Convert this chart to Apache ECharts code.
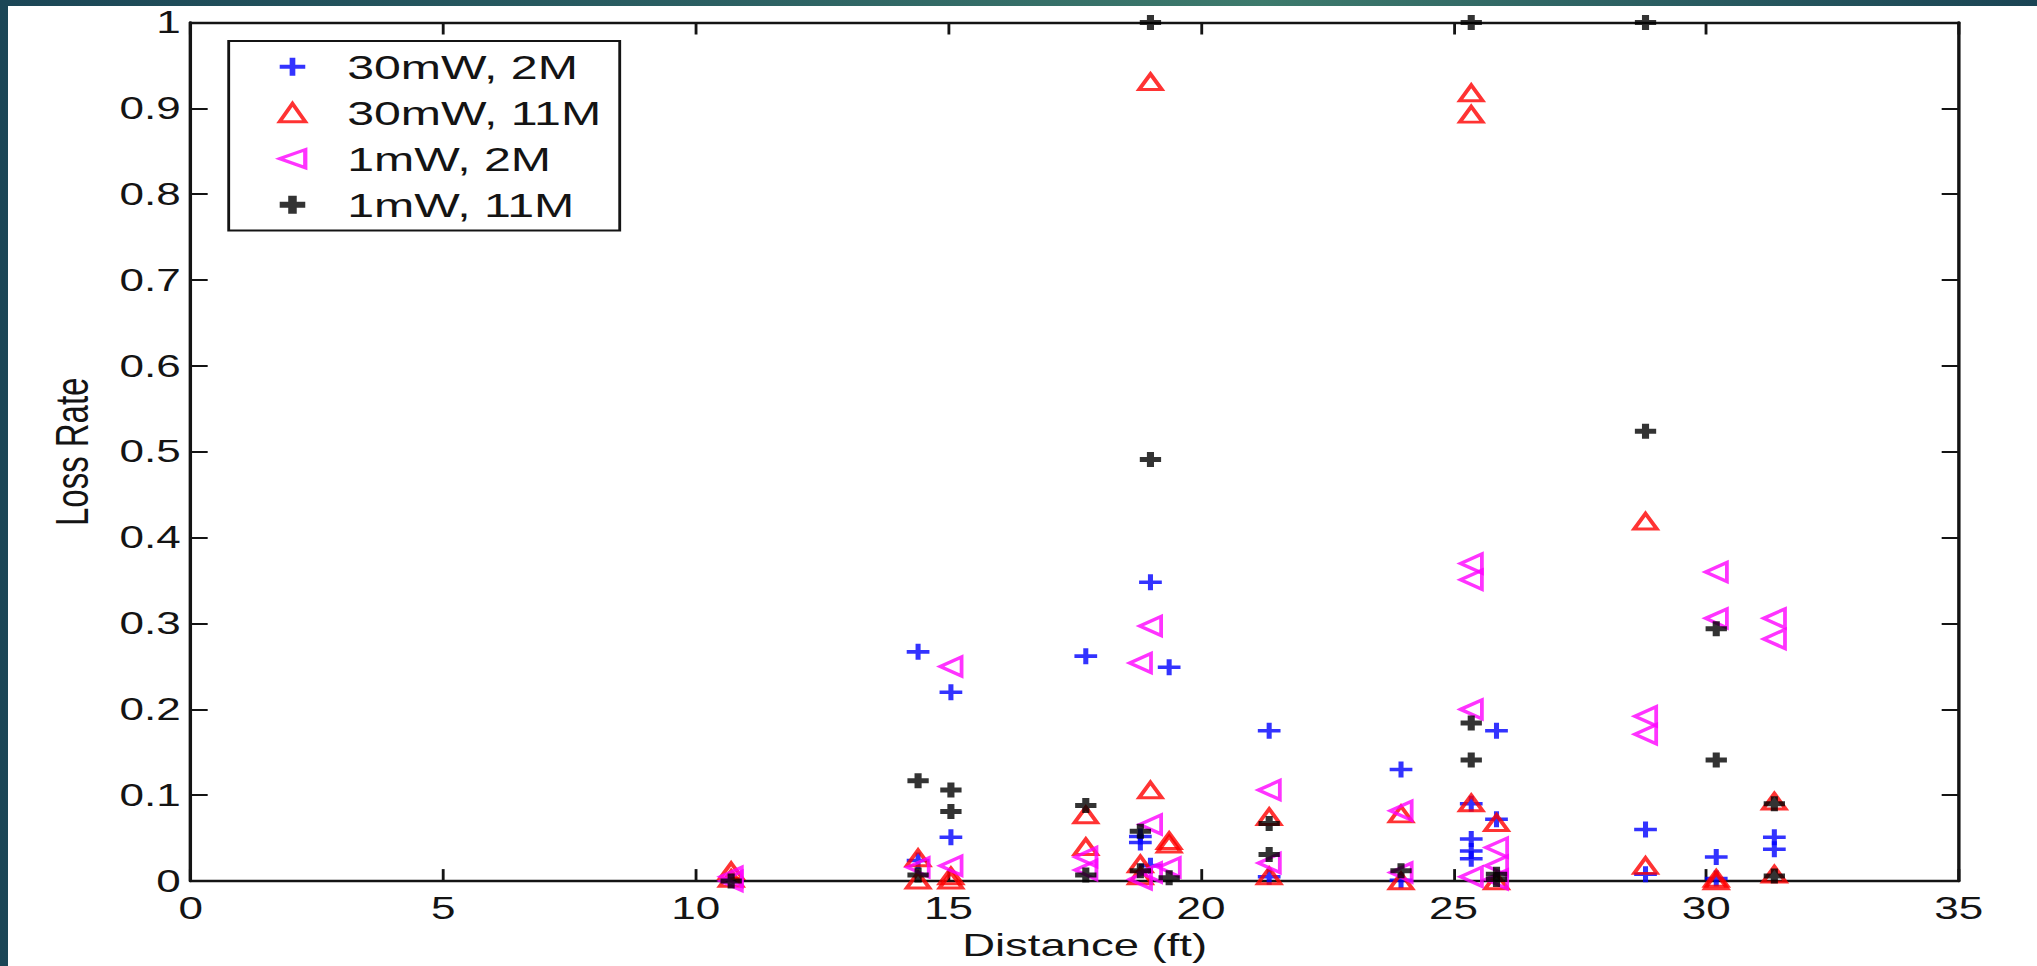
<!DOCTYPE html>
<html>
<head>
<meta charset="utf-8">
<title>Loss Rate vs Distance</title>
<script src="https://cdn.jsdelivr.net/npm/echarts@6/dist/echarts.min.js"></script>
<style>
  html, body {
    margin: 0; padding: 0; width: 2037px; height: 966px; overflow: hidden;
    background: linear-gradient(90deg, #1b4656 0%, #2b5f62 35%, #3d7a6c 62%, #2a5d61 82%, #1a4454 100%);
  }
  #panel { position: absolute; left: 8px; top: 6px; right: 0; bottom: 0; background: #fff; }
  /* the figure is laid out narrow and stretched sideways */
  #chart { position: absolute; left: 0; top: 0; width: 1434px; height: 966px;
           transform: scaleX(1.4205); transform-origin: 0 0; }
</style>
</head>
<body>
<div id="panel"></div>
<div id="chart"></div>
<script>
// [distance (ft), loss rate] per configuration
const pts30mW2M = [
  [14.4, 0.267], [14.4, 0.024],
  [15.05, 0.220], [15.05, 0.051],
  [17.72, 0.262],
  [18.8, 0.052], [18.8, 0.045],
  [19.0, 0.348], [19.0, 0.018],
  [19.37, 0.249],
  [21.35, 0.175], [21.35, 0.005],
  [23.96, 0.130], [23.96, 0.001],
  [25.35, 0.090], [25.35, 0.049], [25.35, 0.035], [25.35, 0.026],
  [25.85, 0.175], [25.85, 0.072],
  [28.8, 0.060], [28.8, 0.008],
  [30.2, 0.028], [30.2, 0.003],
  [31.35, 0.051], [31.35, 0.037]
];
const pts30mW11M = [
  [10.7, 0.012], [10.7, 0.003],
  [14.4, 0.027], [14.4, 0.001],
  [15.05, 0.006], [15.05, 0.001],
  [17.72, 0.077], [17.72, 0.040],
  [18.8, 0.020], [18.8, 0.006],
  [19.0, 0.931], [19.0, 0.106],
  [19.37, 0.047], [19.37, 0.043],
  [21.35, 0.075], [21.35, 0.006],
  [23.96, 0.078], [23.96, 0.0],
  [25.35, 0.918], [25.35, 0.893], [25.35, 0.091],
  [25.85, 0.068], [25.85, 0.0],
  [28.8, 0.419], [28.8, 0.018],
  [30.2, 0.003], [30.2, 0.0],
  [31.35, 0.093], [31.35, 0.008]
];
const pts1mW2M = [
  [10.7, 0.005], [10.7, 0.0],
  [14.4, 0.016],
  [15.05, 0.250], [15.05, 0.018],
  [17.72, 0.028], [17.72, 0.013],
  [18.8, 0.254], [18.8, 0.002],
  [19.0, 0.297], [19.0, 0.066], [19.0, 0.010],
  [19.37, 0.016],
  [21.35, 0.106], [21.35, 0.021],
  [23.96, 0.082], [23.96, 0.010],
  [25.35, 0.370], [25.35, 0.351], [25.35, 0.200], [25.35, 0.005],
  [25.85, 0.039], [25.85, 0.018], [25.85, 0.002],
  [28.8, 0.192], [28.8, 0.171],
  [30.2, 0.360], [30.2, 0.306],
  [31.35, 0.306], [31.35, 0.282]
];
const pts1mW11M = [
  [10.7, 0.0],
  [14.4, 0.117], [14.4, 0.007],
  [15.05, 0.106], [15.05, 0.081],
  [17.72, 0.088], [17.72, 0.007],
  [18.8, 0.058], [18.8, 0.012],
  [19.0, 1.0], [19.0, 0.491],
  [19.37, 0.004],
  [21.35, 0.067], [21.35, 0.031],
  [23.96, 0.012],
  [25.35, 1.0], [25.35, 0.184], [25.35, 0.141],
  [25.85, 0.008], [25.85, 0.002],
  [28.8, 1.0], [28.8, 0.524],
  [30.2, 0.294], [30.2, 0.141],
  [31.35, 0.090], [31.35, 0.006]
];

const seriesNames = ['30mW, 2M', '30mW, 11M', '1mW, 2M', '1mW, 11M'];

const xTicks = { min: 0, max: 35, step: 5 };
const yTicks = { min: 0, max: 1, step: 0.1 };

// marker outlines
const PLUS = 'path://M3.5,0H5.5V3.5H9V5.5H5.5V9H3.5V5.5H0V3.5H3.5Z';
const PLUS_BOLD = 'path://M3,0H6V3H9V6H6V9H3V6H0V3H3Z';
const TRI_UP = 'path://M5,0L10,10L0,10Z';
const TRI_LEFT = 'path://M0,5L10,0L10,10Z';

const FONT = '"Liberation Sans", Arial, Helvetica, sans-serif';
const INK = '#141414';

const styles = [
  { symbol: PLUS, size: 16, item: { color: '#0000ff', borderWidth: 0 } },
  { symbol: TRI_UP, size: [16, 15.5], item: { color: 'rgba(0,0,0,0)', borderColor: '#ff0000', borderWidth: 3 } },
  { symbol: TRI_LEFT, size: [15, 19], item: { color: 'rgba(0,0,0,0)', borderColor: '#ff00ff', borderWidth: 3 } },
  { symbol: PLUS_BOLD, size: 15, item: { color: '#000000', borderWidth: 0 } }
];
const dataSets = [pts30mW2M, pts30mW11M, pts1mW2M, pts1mW11M];

const chart = echarts.init(document.getElementById('chart'), null, { renderer: 'svg' });

const axisCommon = (extra) => Object.assign({
  type: 'value',
  axisLine: { show: true, onZero: false, lineStyle: { color: INK, width: 2.4 } },
  axisTick: { show: true, inside: true, length: 12, lineStyle: { color: INK, width: 2 } },
  splitLine: { show: false }
}, extra);

const option = {
  animation: false,
  backgroundColor: 'transparent',
  textStyle: { fontFamily: FONT },
  grid: { left: 134.2, top: 22.5, width: 1244.7, height: 859.5, containLabel: false },
  xAxis: [
    axisCommon({
      position: 'bottom', min: xTicks.min, max: xTicks.max, interval: xTicks.step,
      name: 'Distance (ft)', nameLocation: 'middle', nameGap: 44,
      nameTextStyle: { fontSize: 32, color: INK, fontFamily: FONT, padding: [0, 0, 0, 14] },
      axisLabel: { fontSize: 31, color: INK, fontFamily: FONT, margin: 12 }
    }),
    axisCommon({
      position: 'top', min: xTicks.min, max: xTicks.max, interval: xTicks.step,
      axisLabel: { show: false }
    })
  ],
  yAxis: [
    axisCommon({
      position: 'left', min: yTicks.min, max: yTicks.max, interval: yTicks.step,
      name: 'Loss Rate', nameLocation: 'middle', nameGap: 67,
      nameTextStyle: { fontSize: 33, color: INK, fontFamily: FONT },
      axisLabel: { fontSize: 31, color: INK, fontFamily: FONT, margin: 7 }
    }),
    axisCommon({
      position: 'right', min: yTicks.min, max: yTicks.max, interval: yTicks.step,
      axisLabel: { show: false }
    })
  ],
  legend: {
    orient: 'vertical',
    left: 161, top: 41,
    padding: [8.7, 13, 8.7, 34.4],
    itemWidth: 67, itemHeight: 18, itemGap: 12,
    borderColor: INK, borderWidth: 2,
    backgroundColor: '#ffffff',
    selectedMode: false,
    symbolKeepAspect: true,
    textStyle: { fontSize: 34, color: INK, fontFamily: FONT },
    data: seriesNames.map((n, i) => ({ name: n, icon: styles[i].symbol, itemStyle: styles[i].item }))
  },
  series: seriesNames.map((n, i) => ({
    type: 'scatter',
    name: n,
    xAxisIndex: 0, yAxisIndex: 0,
    symbol: styles[i].symbol,
    symbolSize: styles[i].size,
    itemStyle: styles[i].item,
    emphasis: { disabled: true },
    data: dataSets[i]
  }))
};
chart.setOption(option);
</script>
</body>
</html>
